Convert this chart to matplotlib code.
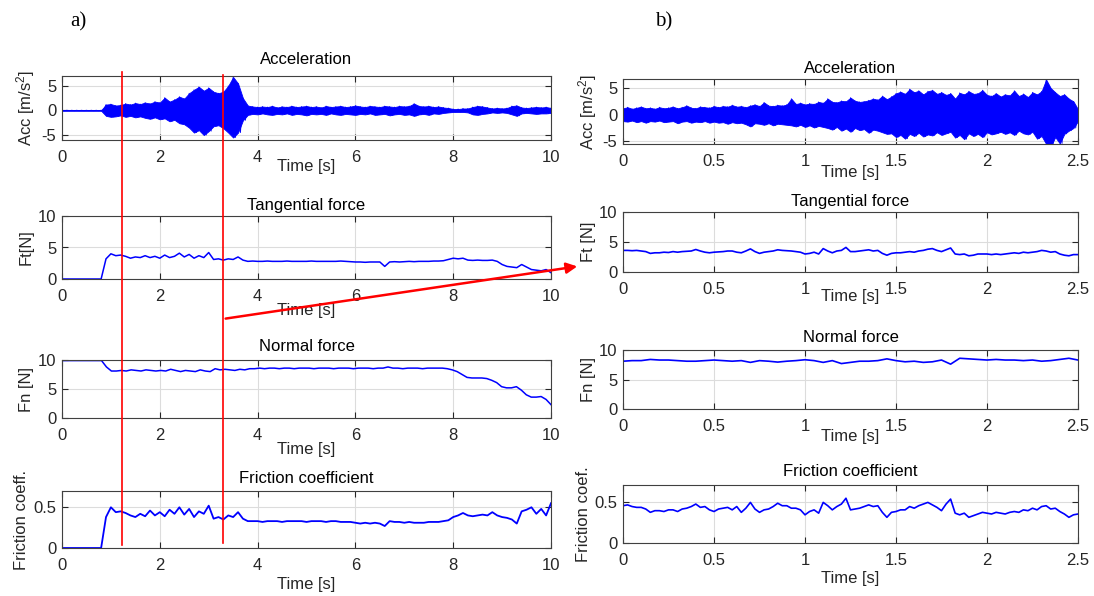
import numpy as np
import matplotlib
matplotlib.use('Agg')
import matplotlib.pyplot as plt
from matplotlib.patches import FancyArrowPatch
from matplotlib.lines import Line2D

plt.rcParams['font.family'] = ['Liberation Sans', 'DejaVu Sans']
plt.rcParams['mathtext.fontset'] = 'custom'
plt.rcParams['mathtext.rm'] = 'Liberation Sans'
plt.rcParams['mathtext.it'] = 'Liberation Sans'
plt.rcParams['axes.unicode_minus'] = False

W, H = 1094, 596

# ---------------- data: panel a) 0..10 s ----------------
acc_a_upper = [0.05, 0.05, 0.05, 0.05, 0.05, 0.05, 0.05, 0.05, 0.05,
               1.2, 1.3, 1.0, 1.1, 1.4, 1.2, 1.5, 1.3, 1.6, 1.4, 1.8, 1.6, 2.6, 1.8, 2.2, 2.8,
               2.4, 3.5, 4.2, 4.8, 4.0, 4.6, 3.8, 3.5, 3.8, 5.0, 6.8, 5.5, 2.5, 1.0,
               0.8, 0.7, 0.8, 0.7, 0.9, 0.6, 0.8, 0.7, 0.9, 0.7, 0.8, 0.9, 0.7, 0.8, 0.6, 0.9,
               0.7, 0.8, 0.9, 0.7, 0.8, 1.0, 0.8, 0.7, 0.9, 0.8, 0.7, 0.9, 0.8, 0.7, 0.9, 0.8,
               0.9, 1.4, 0.9, 0.8, 0.9, 0.7, 0.8, 0.6,
               0.5, 0.3, 0.3, 0.4, 0.4, 0.7, 0.9, 0.8, 0.6, 0.4, 0.5, 0.4, 0.5, 0.9, 1.0, 0.6,
               0.5, 0.6, 0.7, 0.6, 0.7, 0.5]
acc_a_lower = [-0.05, -0.05, -0.05, -0.05, -0.05, -0.05, -0.05, -0.05, -0.05,
               -1.1, -1.3, -1.2, -1.0, -1.3, -1.1, -1.4, -1.2, -1.5, -1.7, -1.4, -1.8, -1.6, -2.2,
               -1.9, -2.6, -2.8, -3.5, -4.5, -4.0, -5.0, -4.2, -3.2, -3.0, -3.6, -4.5, -5.5, -4.5,
               -2.0, -0.9,
               -0.7, -0.8, -0.6, -0.8, -0.9, -0.7, -0.8, -0.6, -0.9, -0.7, -0.8, -1.0, -0.7, -0.8,
               -0.7, -0.9, -0.6, -0.8, -0.9, -0.7, -0.8, -0.9, -0.7, -0.8, -0.6, -0.9, -0.8, -0.7,
               -1.0, -0.8, -0.7, -0.9, -0.8, -1.1, -0.8, -0.7, -0.9, -0.6, -0.7, -0.5,
               -0.4, -0.3, -0.3, -0.3, -0.4, -0.8, -0.9, -0.7, -0.6, -0.4, -0.5, -0.4, -0.5, -0.8,
               -1.1, -0.6, -0.5, -0.6, -0.7, -0.6, -0.6, -0.5]

ft_a = [0, 0, 0, 0, 0, 0, 0, 0, 0,
        3.2, 4.0, 3.7, 3.8, 3.6, 3.3, 3.5, 3.4, 3.7, 3.4, 3.6, 3.3, 3.8, 3.4, 3.6, 4.1,
        3.5, 3.9, 3.3, 3.7, 3.4, 4.2, 3.1, 3.2, 3.0, 3.2, 3.1, 3.5, 3.0, 2.8,
        2.85, 2.8, 2.8, 2.85, 2.8, 2.8, 2.8, 2.85, 2.8, 2.8, 2.8, 2.8, 2.85, 2.8, 2.8, 2.8,
        2.8, 2.8, 2.85, 2.8, 2.75, 2.7,
        2.7, 2.65, 2.7, 2.7, 2.7, 2.0,
        2.7, 2.75, 2.7, 2.75, 2.8, 2.75, 2.8, 2.8, 2.8, 2.85, 2.85, 2.9, 3.1,
        3.3, 3.2, 3.3, 3.0, 2.95, 3.0, 2.95, 2.95, 3.0, 2.8, 2.3, 2.0, 1.9, 1.8, 2.3, 1.9,
        1.5, 1.4, 1.3, 1.5, 1.0]

fn_a = [9.9, 9.9, 9.9, 9.9, 9.9, 9.9, 9.9, 9.9, 9.9,
        8.8, 8.1, 8.1, 8.2, 8.1, 8.3, 8.2, 8.1, 8.3, 8.2, 8.1, 8.2, 8.1, 8.4, 8.2, 8.0,
        8.2, 8.1, 8.0, 8.3, 8.1, 8.0, 8.5, 8.3, 8.4, 8.3, 8.2, 8.4, 8.3, 8.5,
        8.5, 8.6, 8.5, 8.6, 8.6, 8.5, 8.6, 8.6, 8.5, 8.6, 8.6, 8.6, 8.5, 8.6, 8.6, 8.6,
        8.5, 8.6, 8.6, 8.6, 8.5, 8.6, 8.6, 8.6, 8.5, 8.6, 8.6,
        8.8, 8.6, 8.6, 8.5, 8.6, 8.6, 8.6, 8.5, 8.6, 8.6, 8.6, 8.6, 8.5,
        8.3, 8.0, 7.5, 7.0, 6.9, 6.9, 6.9, 6.8, 6.5, 6.1, 5.4, 5.2, 5.2, 5.4, 4.8, 4.0,
        3.6, 3.6, 3.7, 3.2, 2.3]

mu_a = [0, 0, 0, 0, 0, 0, 0, 0, 0,
        0.38, 0.50, 0.44, 0.45, 0.43, 0.40, 0.38, 0.42, 0.39, 0.46, 0.40, 0.44, 0.39, 0.47,
        0.42, 0.50, 0.41, 0.48, 0.38, 0.45, 0.42, 0.52, 0.36, 0.38, 0.35, 0.40, 0.38, 0.44,
        0.36, 0.33,
        0.33, 0.33, 0.32, 0.33, 0.33, 0.33, 0.32, 0.33, 0.33, 0.33, 0.33, 0.32, 0.33, 0.33,
        0.33, 0.32, 0.33, 0.33, 0.32, 0.32, 0.32, 0.31,
        0.30, 0.31, 0.30, 0.31, 0.30, 0.27, 0.33, 0.32, 0.32, 0.31, 0.32, 0.31, 0.31, 0.31,
        0.32, 0.32, 0.32, 0.33, 0.34,
        0.38, 0.40, 0.43, 0.40, 0.39, 0.40, 0.41, 0.40, 0.44, 0.40, 0.38, 0.37, 0.35, 0.30,
        0.45, 0.47, 0.50, 0.42, 0.48, 0.40, 0.55]

# ---------------- data: panel b) 0..2.5 s ----------------
acc_b_upper = [1.2, 1.4, 1.1, 1.3, 1.5, 1.2, 1.3, 1.1, 1.4, 1.2, 1.3, 1.5, 1.2, 1.4, 1.7, 1.3,
               1.2, 1.5, 1.4, 1.3, 1.6,
               1.4, 1.6, 1.5, 1.8, 1.5, 1.6, 1.4, 1.7, 1.9, 1.6, 2.3, 1.7, 1.6, 1.8, 1.7, 1.9,
               3.0, 2.0, 2.2, 1.9, 2.1, 2.0, 2.4, 2.2,
               3.0, 2.4, 2.3, 2.6, 2.5, 3.2, 2.6, 2.4, 2.5, 2.7, 3.0, 2.8, 3.5, 2.9,
               3.4, 4.0, 4.3, 3.9, 4.8, 4.2, 4.5, 3.8, 4.4, 4.6, 3.9, 4.2, 3.7, 4.0,
               3.0, 4.1, 3.8, 4.4, 3.9, 4.0, 4.6, 3.7, 3.5, 4.0,
               3.4, 3.8, 3.6, 4.5, 3.5, 3.9, 3.3, 4.2, 3.8, 4.4,
               6.6, 5.0, 4.2, 3.5, 3.8, 3.0, 2.5, 1.0]
acc_b_lower = [-1.2, -1.3, -1.1, -1.4, -1.2, -1.5, -1.2, -1.3, -1.1, -1.4, -1.3, -1.2, -1.6,
               -1.3, -1.2, -1.5, -1.3, -1.4, -1.2, -1.5, -1.3,
               -1.5, -1.4, -1.7, -1.4, -1.6, -1.5, -1.8, -2.2, -1.6, -1.7, -1.9, -1.6, -2.0,
               -1.7, -1.8, -1.9,
               -2.0, -2.2, -1.9, -2.3, -2.0, -2.4, -2.1, -2.3,
               -2.5, -2.8, -2.3, -3.0, -2.6, -3.2, -2.5, -2.9, -2.7, -3.4, -2.8, -3.0, -3.3, -3.6,
               -3.5, -4.2, -3.8, -4.5, -3.6, -4.0, -3.4, -4.1, -3.7, -3.9, -3.3, -3.8, -3.5, -3.2,
               -4.3, -3.8, -4.6, -3.5, -4.0, -3.6, -4.2, -3.3, -3.7, -3.5,
               -3.2, -3.6, -3.3, -3.8, -3.0, -3.5, -3.7, -3.2, -4.5, -4.0,
               -5.5, -6.0, -4.2, -5.4, -3.6, -3.0, -2.5, -1.2]

ft_b = [3.6, 3.6, 3.55, 3.6, 3.5, 3.4, 3.1, 3.2, 3.2, 3.3, 3.25, 3.4, 3.3, 3.4, 3.45, 3.5,
        3.75, 3.5, 3.3, 3.2, 3.3, 3.35, 3.4, 3.5, 3.5, 3.3, 3.2, 3.5, 3.85, 3.4, 3.1, 3.3,
        3.4, 3.5, 3.7, 3.6, 3.55, 3.5, 3.4, 3.3, 3.0, 3.1, 3.3, 3.0, 3.9, 3.5, 3.2, 3.5,
        3.6, 4.1, 3.4, 3.4, 3.5, 3.6, 3.7, 3.5, 3.6, 3.1, 2.8, 3.1, 3.2, 3.2, 3.3, 3.4,
        3.3, 3.5, 3.6, 3.8, 3.9, 3.6, 3.4, 3.7, 4.0, 3.0, 2.9, 3.0, 2.7, 2.8, 3.0, 3.0,
        3.0, 2.9, 3.0, 2.9, 3.0, 3.1, 3.2, 3.1, 3.3, 3.2, 3.3, 3.4, 3.6, 3.5, 3.3, 3.4,
        3.0, 2.8, 2.7, 2.9, 2.9]

fn_b = [8.1, 8.2, 8.2, 8.4, 8.3, 8.3, 8.2, 8.1, 8.1, 8.2, 8.3, 8.2, 8.1, 8.2, 7.9, 8.2,
        8.1, 7.95, 8.1, 8.2, 8.35, 8.2, 7.9, 8.2, 7.7, 7.9, 8.1, 8.1, 8.2, 8.5, 8.2, 8.0,
        8.1, 7.9, 8.0, 8.3, 7.6, 8.6, 8.5, 8.4, 8.3, 8.4, 8.3, 8.3, 8.2, 8.3, 8.1, 8.2,
        8.4, 8.6, 8.3]

mu_b = [0.45, 0.46, 0.44, 0.43, 0.43, 0.41, 0.37, 0.39, 0.39, 0.38, 0.40, 0.40, 0.38, 0.41,
        0.42, 0.44, 0.47, 0.43, 0.44, 0.40, 0.38, 0.41, 0.42, 0.43, 0.40, 0.44, 0.37, 0.42,
        0.49, 0.41, 0.37, 0.40, 0.41, 0.44, 0.48, 0.45, 0.45, 0.42, 0.42, 0.40, 0.34, 0.38,
        0.40, 0.36, 0.49, 0.45, 0.40, 0.44, 0.47, 0.54, 0.40, 0.41, 0.42, 0.44, 0.46, 0.44,
        0.45, 0.37, 0.31, 0.37, 0.38, 0.40, 0.40, 0.44, 0.42, 0.45, 0.47, 0.49, 0.46, 0.43,
        0.39, 0.47, 0.53, 0.36, 0.34, 0.36, 0.31, 0.33, 0.35, 0.37, 0.36, 0.35, 0.37, 0.36,
        0.35, 0.37, 0.38, 0.37, 0.40, 0.39, 0.42, 0.40, 0.44, 0.45, 0.41, 0.42, 0.38, 0.35,
        0.31, 0.34, 0.35]

xticks_a = [0, 2, 4, 6, 8, 10]
xticklabels_a = ['0', '2', '4', '6', '8', '10']
xticks_b = [0, 0.5, 1, 1.5, 2, 2.5]
xticklabels_b = ['0', '0.5', '1', '1.5', '2', '2.5']
yticks_acc = [-5, 0, 5]
yticklabels_acc = ['-5', '0', '5']
yticks_force = [0, 5, 10]
yticklabels_force = ['0', '5', '10']
yticks_mu = [0, 0.5]
yticklabels_mu = ['0', '0.5']
mark_times = [1.23, 3.29]

BLUE = '#0000ff'
TXT = '#262626'

fig = plt.figure(figsize=(W / 100, H / 100), dpi=100)


def rect(x0, y0, x1, y1):
    return [x0 / W, 1 - y1 / H, (x1 - x0) / W, (y1 - y0) / H]


def make_ax(box, xlim, xt, xtl, ylim, yt, ytl, title, title_cy, ylabel, ylabel_cx, xlabel_cy):
    x0, y0, x1, y1 = box
    ax = fig.add_axes(rect(x0, y0, x1, y1))
    ax.set_xlim(*xlim)
    ax.set_ylim(*ylim)
    ax.set_xticks(xt)
    ax.set_xticklabels(xtl)
    ax.set_yticks(yt)
    ax.set_yticklabels(ytl)
    ax.grid(True, color='#dcdcdc', linewidth=0.8)
    ax.set_axisbelow(True)
    ax.tick_params(direction='in', length=4, width=0.8, top=True, right=True,
                   labelsize=12, labelcolor=TXT, color=TXT)
    ax.tick_params(axis='x', pad=7)
    ax.tick_params(axis='y', pad=4)
    for s in ax.spines.values():
        s.set_color('#404040')
        s.set_linewidth(0.8)
    pad_px = (y0 - title_cy) - 6
    ax.set_title(title, fontsize=12, color='black', pad=pad_px * 0.72)
    ax.set_ylabel(ylabel, fontsize=12, color=TXT)
    ax.yaxis.set_label_coords((ylabel_cx - x0) / (x1 - x0), 0.5)
    ax.set_xlabel('Time [s]', fontsize=12, color=TXT)
    ax.xaxis.set_label_coords(0.5, -(xlabel_cy - y1) / (y1 - y0))
    ax.xaxis.label.set_va('center')
    ax.yaxis.label.set_va('center')
    return ax


def noise_band(ax, t_end, up, lo):
    tu = np.linspace(0, t_end, len(up))
    tl = np.linspace(0, t_end, len(lo))
    ax.fill_between(tu, np.interp(tu, tl, lo), up, color=BLUE, lw=0.6)
    dt = tu[1] - tu[0]
    tl2 = np.minimum(tl + dt / 2, t_end)
    x = np.concatenate([tu, tl2])
    y = np.concatenate([up, lo])
    order = np.argsort(x, kind='stable')
    ax.plot(x[order], y[order], color=BLUE, lw=0.6)


L0, L1 = 62, 551
R0, R1 = 623, 1078

# ---- panel a ----
ax_a1 = make_ax((L0, 76, L1, 140), (0, 10), xticks_a, xticklabels_a, (-6, 7),
                yticks_acc, yticklabels_acc, 'Acceleration', 58, 'Acc [m/s$^2$]', 26, 166)
noise_band(ax_a1, 10, acc_a_upper, acc_a_lower)

ax_a2 = make_ax((L0, 216, L1, 279), (0, 10), xticks_a, xticklabels_a, (0, 10),
                yticks_force, yticklabels_force, 'Tangential force', 204, 'Ft[N]', 26, 310)
ax_a2.plot(np.linspace(0, 10, len(ft_a)), ft_a, color=BLUE, lw=1.1)

ax_a3 = make_ax((L0, 360, L1, 418), (0, 10), xticks_a, xticklabels_a, (0, 10),
                yticks_force, yticklabels_force, 'Normal force', 345, 'Fn [N]', 26, 449)
ax_a3.plot(np.linspace(0, 10, len(fn_a)), fn_a, color=BLUE, lw=1.1)

ax_a4 = make_ax((L0, 491, L1, 548), (0, 10), xticks_a, xticklabels_a, (0, 0.7),
                yticks_mu, yticklabels_mu, 'Friction coefficient', 477, 'Friction coeff.', 22, 584)
ax_a4.plot(np.linspace(0, 10, len(mu_a)), mu_a, color=BLUE, lw=1.3)

# ---- panel b ----
ax_b1 = make_ax((R0, 79, R1, 144), (0, 2.5), xticks_b, xticklabels_b, (-5.5, 6.7),
                yticks_acc, yticklabels_acc, 'Acceleration', 67, 'Acc [m/s$^2$]', 588, 173)
noise_band(ax_b1, 2.5, acc_b_upper, acc_b_lower)

ax_b2 = make_ax((R0, 212, R1, 272), (0, 2.5), xticks_b, xticklabels_b, (0, 10),
                yticks_force, yticklabels_force, 'Tangential force', 200, 'Ft [N]', 588, 297)
ax_b2.plot(np.linspace(0, 2.5, len(ft_b)), ft_b, color=BLUE, lw=1.2)

ax_b3 = make_ax((R0, 350, R1, 409), (0, 2.5), xticks_b, xticklabels_b, (0, 10),
                yticks_force, yticklabels_force, 'Normal force', 336, 'Fn [N]', 588, 437)
ax_b3.plot(np.linspace(0, 2.5, len(fn_b)), fn_b, color=BLUE, lw=1.2)

ax_b4 = make_ax((R0, 485, R1, 543), (0, 2.5), xticks_b, xticklabels_b, (0, 0.7),
                yticks_mu, yticklabels_mu, 'Friction coefficient', 470, 'Friction coef.', 584, 578)
ax_b4.plot(np.linspace(0, 2.5, len(mu_b)), mu_b, color=BLUE, lw=1.2)

# ---- panel letters ----
fig.text(70 / W, 1 - 22 / H, 'a)', family='Liberation Serif', fontsize=15,
         ha='left', va='center')
fig.text(655 / W, 1 - 22 / H, 'b)', family='Liberation Serif', fontsize=15,
         ha='left', va='center')

# ---- red markers (drawn in figure coordinates from the data positions) ----
fig.canvas.draw()
inv = fig.transFigure.inverted()
spans = [(72, 545), (75, 543)]
xs = []
for t, (ya, yb) in zip(mark_times, spans):
    xf = inv.transform(ax_a1.transData.transform((t, 0)))[0]
    xs.append(xf)
    fig.add_artist(Line2D([xf, xf], [1 - ya / H, 1 - yb / H], transform=fig.transFigure,
                          color='#ff0000', lw=1.2))

arrow = FancyArrowPatch((xs[1], 1 - 319 / H), (580 / W, 1 - 266 / H),
                        transform=fig.transFigure, arrowstyle='-|>', mutation_scale=16,
                        color='#ff0000', lw=1.8)
fig.add_artist(arrow)

fig.savefig('out.png', dpi=100)
